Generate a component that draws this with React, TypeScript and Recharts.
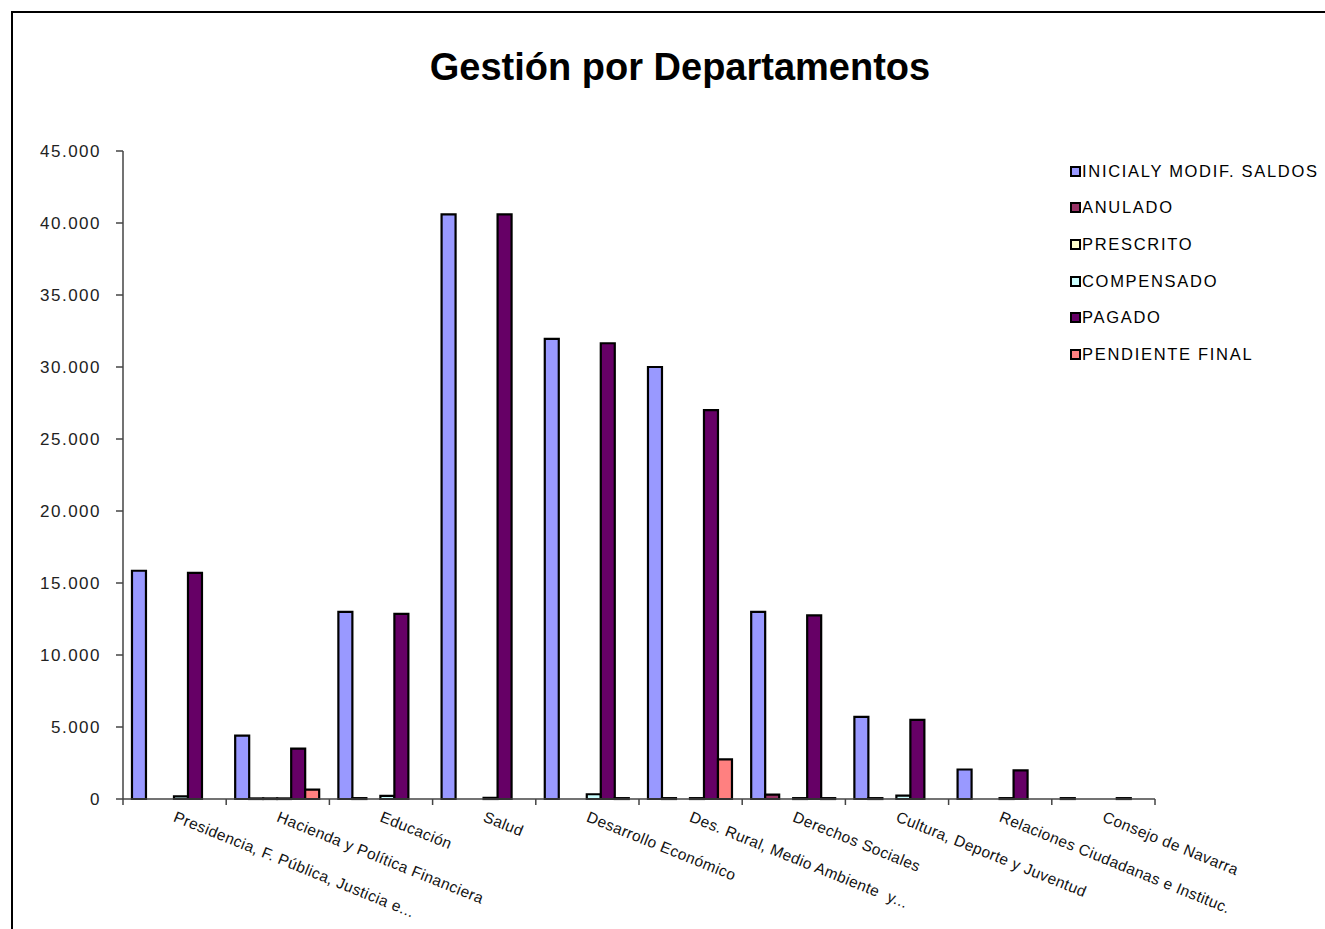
import React from "react";
import { BarChart, Bar, XAxis, YAxis, Legend } from "recharts";

// Departamentos (eje X)
const categories = [
  "Presidencia, F. Pública, Justicia e...",
  "Hacienda y Política Financiera",
  "Educación",
  "Salud",
  "Desarrollo Económico",
  "Des. Rural, Medio Ambiente  y...",
  "Derechos Sociales",
  "Cultura, Deporte y Juventud",
  "Relaciones Ciudadanas e Instituc.",
  "Consejo de Navarra",
];

// valores (miles)
const inicial = [15850, 4400, 13000, 40600, 31950, 30000, 13000, 5700, 2050, 60];
const anulado = [0, 40, 60, 0, 0, 60, 300, 60, 0, 0];
const prescrito = [0, 40, 0, 0, 0, 0, 0, 0, 0, 0];
const compensado = [180, 40, 220, 80, 330, 60, 60, 230, 60, 0];
const pagado = [15700, 3500, 12850, 40600, 31650, 27000, 12750, 5500, 1990, 60];
const pendiente = [0, 650, 0, 0, 60, 2750, 60, 0, 0, 0];

const yTicks = [0, 5000, 10000, 15000, 20000, 25000, 30000, 35000, 40000, 45000];

const SERIES = [
  { key: "inicial", name: "INICIALY MODIF. SALDOS", color: "#9999FF" },
  { key: "anulado", name: "ANULADO", color: "#993366" },
  { key: "prescrito", name: "PRESCRITO", color: "#FFFFCC" },
  { key: "compensado", name: "COMPENSADO", color: "#CCFFFF" },
  { key: "pagado", name: "PAGADO", color: "#660066" },
  { key: "pendiente", name: "PENDIENTE FINAL", color: "#FF8080" },
];

const data = categories.map((name, i) => ({
  name,
  inicial: inicial[i],
  anulado: anulado[i],
  prescrito: prescrito[i],
  compensado: compensado[i],
  pagado: pagado[i],
  pendiente: pendiente[i],
}));

const FONT = '"Liberation Sans", Arial, sans-serif';
const W = 1325;
const H = 929;
const M = { top: 151, right: 170, left: 0, bottom: 0 };
const Y_W = 123;

const fmt = (v: number) => v.toLocaleString("de-DE");

function CategoryTick(props: any) {
  const { x, y, payload, index, visibleTicksCount } = props;
  const half = payload?.offset ?? (W - M.right - Y_W) / categories.length / 2;
  const last = index === visibleTicksCount - 1;
  return (
    <g>
      <line x1={x - half} x2={x - half} y1={y - 6} y2={y} stroke="#444" strokeWidth={1.5} />
      {last && <line x1={x + half} x2={x + half} y1={y - 6} y2={y} stroke="#444" strokeWidth={1.5} />}
      <g transform={`translate(${x - 2},${y + 16}) rotate(22)`}>
        <text
          x={0}
          y={0}
          textAnchor="start"
          fill="#111"
          fontSize={15.5}
          fontFamily={FONT}
          style={{ letterSpacing: 0.4, whiteSpace: "pre" }}
        >
          {payload.value}
        </text>
      </g>
    </g>
  );
}

function renderLegend(props: any) {
  const items = [...(props.payload || [])].sort(
    (a: any, b: any) =>
      SERIES.findIndex((s) => s.name === a.value) - SERIES.findIndex((s) => s.name === b.value)
  );
  return (
    <div style={{ fontFamily: FONT, fontSize: 16.5, letterSpacing: 1.7, color: "#000" }}>
      {items.map((e: any) => (
        <div
          key={e.value}
          style={{ display: "flex", alignItems: "center", height: 36.6, whiteSpace: "nowrap" }}
        >
          <span
            style={{
              display: "inline-block",
              width: 7,
              height: 7,
              border: "2px solid #000",
              background: e.color,
              marginRight: 1,
            }}
          />
          <span>{e.value}</span>
        </div>
      ))}
    </div>
  );
}

export default function App() {
  return (
    <div
      style={{
        position: "absolute",
        left: 0,
        top: 0,
        width: W,
        height: H,
        overflow: "hidden",
        background: "#fff",
        fontFamily: FONT,
      }}
    >
      <div
        style={{
          position: "absolute",
          left: 11,
          top: 11,
          width: W,
          height: H,
          borderTop: "2px solid #000",
          borderLeft: "2px solid #000",
        }}
      />
      <div
        style={{
          position: "absolute",
          left: 0,
          top: 48,
          width: 1360,
          textAlign: "center",
          fontSize: 38,
          lineHeight: "38px",
          fontWeight: "bold",
          color: "#000",
        }}
      >
        Gestión por Departamentos
      </div>
      <div style={{ position: "absolute", left: 0, top: 0 }}>
        <BarChart
          width={W}
          height={H}
          data={data}
          margin={M}
          barCategoryGap="8.7%"
          barGap={0}
        >
          <XAxis
            dataKey="name"
            height={H - 799}
            interval={0}
            tickSize={6}
            tickMargin={0}
            tickLine={false}
            stroke="#444"
            strokeWidth={1.5}
            tick={<CategoryTick />}
          />
          <YAxis
            width={Y_W}
            domain={[0, 45000]}
            ticks={yTicks}
            tickFormatter={fmt}
            tickSize={7}
            tickMargin={15}
            stroke="#444"
            strokeWidth={1.5}
            tick={{ fill: "#222", fontSize: 17, fontFamily: FONT, letterSpacing: 1.5 }}
            tickLine={{ stroke: "#444", strokeWidth: 1.5 }}
          />
          <Legend
            layout="vertical"
            align="center"
            verticalAlign="middle"
            content={renderLegend}
            wrapperStyle={{ left: 1070, top: 153, width: 260 }}
          />
          {SERIES.map((s) => (
            <Bar
              key={s.key}
              dataKey={s.key}
              name={s.name}
              fill={s.color}
              stroke="#000"
              strokeWidth={2.2}
              isAnimationActive={false}
            />
          ))}
        </BarChart>
      </div>
    </div>
  );
}
